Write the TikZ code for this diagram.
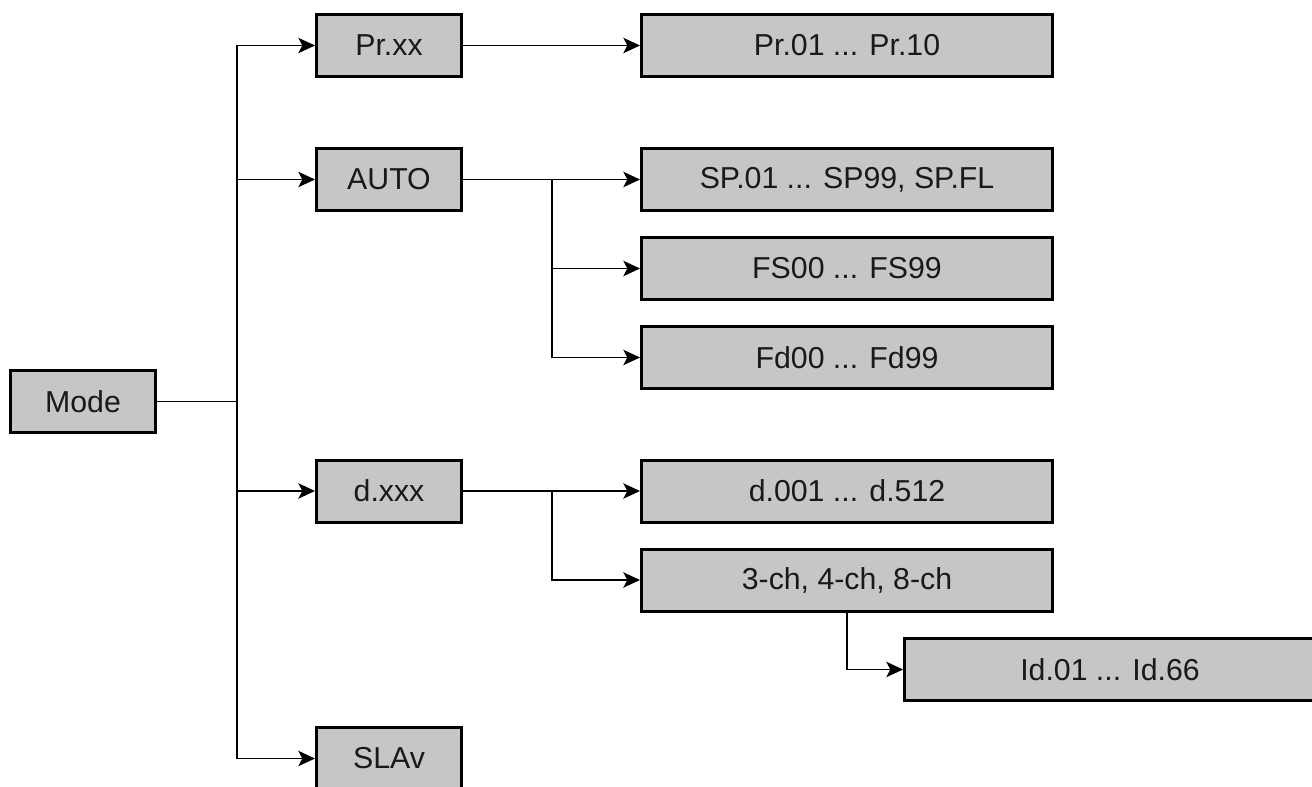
\documentclass[tikz,border=0pt]{standalone}
\usepackage{fontspec}
\setmainfont{Liberation Sans}
\usetikzlibrary{arrows.meta}
\definecolor{boxgray}{RGB}{197,198,200}
\definecolor{txt}{RGB}{25,25,25}
\begin{document}
\begin{tikzpicture}[x=0.75pt,y=-0.75pt,
  box/.style={draw=black,fill=boxgray,line width=2.25pt,minimum height=46.5pt,
    inner sep=0pt,text=txt,font=\fontsize{22.7}{27}\selectfont},
  smallbox/.style={box,minimum width=108.75pt},
  widebox/.style={box,minimum width=308.25pt},
  conn/.style={draw=black,line width=1.3pt},
  arr/.style={conn,-{Stealth[length=12.5pt,width=11.5pt,inset=3pt]}}]
\useasboundingbox (0,0) rectangle (1312,787);
\clip (0,0) rectangle (1312,787);
\node[smallbox] (mode) at (83,401.5) {Mode};
\node[smallbox] (pr) at (389,45.5) {Pr.xx};
\node[smallbox] (auto) at (389,179.5) {AUTO};
\node[smallbox] (dxxx) at (389,491) {d.xxx};
\node[smallbox] (slav) at (389,758.5) {SLAv};
\node[widebox] (prr) at (847,45.5) {Pr.01 ... Pr.10};
\node[widebox] (sp) at (847,179.5) {SP.01 ... SP99, SP.FL};
\node[widebox] (fs) at (847,268.5) {FS00 ... FS99};
\node[widebox] (fd) at (847,357.5) {Fd00 ... Fd99};
\node[widebox] (d001) at (847,491) {d.001 ... d.512};
\node[widebox] (ch) at (847,580) {3-ch, 4-ch, 8-ch};
\node[widebox] (id) at (1110,669.5) {Id.01 ... Id.66};
\coordinate (tr) at (237,0);
\coordinate (br) at (552,0);
% trunk
\draw[conn] (mode.east) -- (tr |- mode.east);
\draw[conn] (tr |- pr.west) -- (tr |- slav.west);
\draw[arr] (tr |- pr.west) -- (pr.west);
\draw[arr] (tr |- auto.west) -- (auto.west);
\draw[arr] (tr |- dxxx.west) -- (dxxx.west);
\draw[arr] (tr |- slav.west) -- (slav.west);
% second level
\draw[arr] (pr.east) -- (prr.west);
\draw[arr] (auto.east) -- (sp.west);
\draw[arr] (br |- sp.west) |- (fs.west);
\draw[arr] (br |- sp.west) |- (fd.west);
\draw[arr] (dxxx.east) -- (d001.west);
\draw[arr] (br |- d001.west) |- (ch.west);
\draw[arr] (ch.south) |- (id.west);
\end{tikzpicture}
\end{document}
